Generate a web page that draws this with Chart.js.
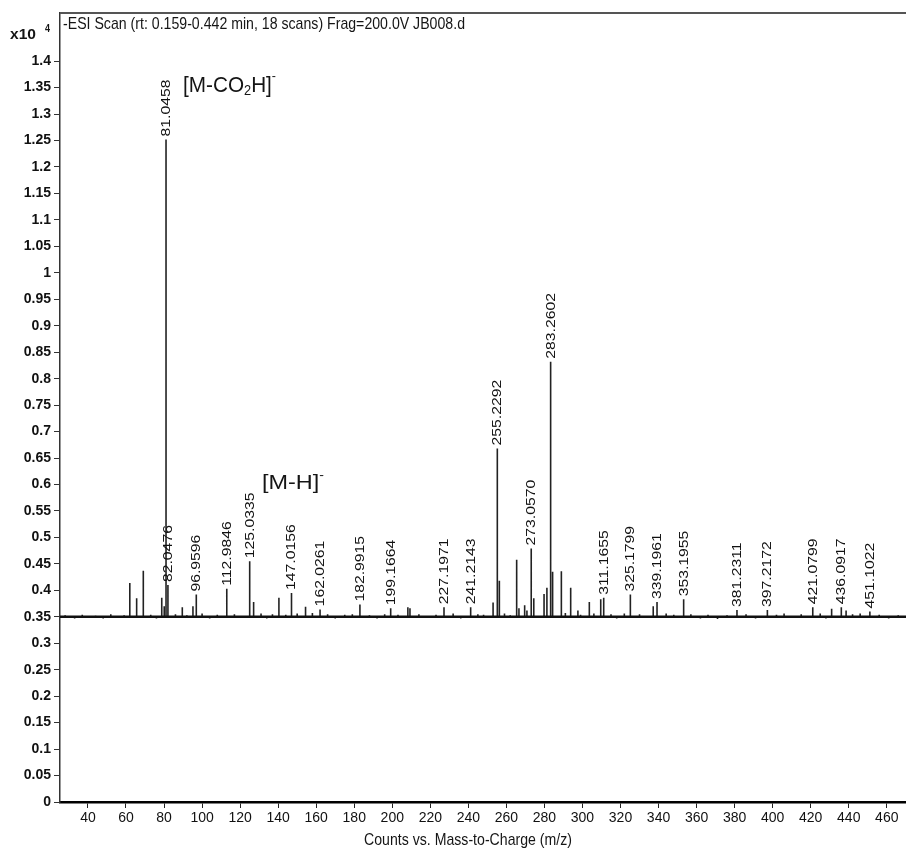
<!DOCTYPE html>
<html>
<head>
<meta charset="utf-8">
<script src="https://cdn.jsdelivr.net/npm/chart.js@4.4.1/dist/chart.umd.min.js"></script>
<style>
  html, body { margin: 0; padding: 0; background: #fff; }
  #wrap { width: 906px; height: 852px; position: relative; }
</style>
</head>
<body>
<div id="wrap"><canvas id="c" width="906" height="852"></canvas></div>
<script>
// Counts are in units of 10^4; the spectrum sits on a baseline offset.
const baselineLevel = 0.35;

// Annotated peaks: m/z text as printed, and apex intensity (x10^4 counts)
const labelledText = ['81.0458', '82.0476', '96.9596', '112.9846', '125.0335', '147.0156',
  '162.0261', '182.9915', '199.1664', '227.1971', '241.2143', '255.2292', '273.0570',
  '283.2602', '311.1655', '325.1799', '339.1961', '353.1955', '381.2311', '397.2172',
  '421.0799', '436.0917', '451.1022'];
const labelledHeight = [1.252, 0.410, 0.392, 0.403, 0.455, 0.395,
  0.364, 0.373, 0.366, 0.368, 0.368, 0.668, 0.479,
  0.832, 0.386, 0.392, 0.378, 0.383, 0.363, 0.363,
  0.368, 0.368, 0.360];

// Unannotated peaks
const otherMz = [62.0, 65.6, 69.1, 78.8, 80.1, 89.6, 95.2, 127.1, 140.4, 154.4,
  208.2, 209.3, 253.0, 256.3, 265.4, 266.6, 269.6, 270.8, 274.4, 279.8,
  281.3, 284.3, 288.9, 293.8, 297.6, 303.6, 309.6, 337.2, 431.0, 438.6];
const otherHeight = [0.414, 0.385, 0.437, 0.386, 0.370, 0.368, 0.370, 0.378, 0.386, 0.369,
  0.368, 0.366, 0.377, 0.418, 0.458, 0.366, 0.372, 0.362, 0.385, 0.393,
  0.405, 0.435, 0.436, 0.405, 0.362, 0.378, 0.383, 0.370, 0.365, 0.362];

// Baseline noise wiggles
const noiseMz = [28, 33, 37, 44, 48, 52, 56, 59, 73, 76, 86, 92, 100, 104, 108, 117, 121,
  131, 134, 137, 144, 150, 158, 166, 170, 175, 179, 188, 192, 196, 203, 214, 218, 223,
  232, 236, 245, 248, 259, 262, 291, 299, 306, 315, 318, 322, 330, 333, 344, 348, 357,
  362, 366, 371, 376, 386, 391, 402, 406, 411, 415, 425, 428, 442, 446, 456, 461, 466];
const noiseHeight = [0.353, 0.347, 0.354, 0.352, 0.347, 0.355, 0.348, 0.353, 0.354, 0.347,
  0.355, 0.353, 0.356, 0.347, 0.354, 0.355, 0.348, 0.356, 0.347, 0.355, 0.354, 0.356,
  0.357, 0.355, 0.347, 0.354, 0.355, 0.353, 0.347, 0.355, 0.354, 0.355, 0.348, 0.354,
  0.356, 0.347, 0.355, 0.354, 0.356, 0.353, 0.357, 0.354, 0.356, 0.355, 0.347, 0.356,
  0.355, 0.348, 0.356, 0.354, 0.355, 0.347, 0.354, 0.346, 0.353, 0.355, 0.347, 0.354,
  0.356, 0.348, 0.355, 0.356, 0.347, 0.355, 0.356, 0.354, 0.347, 0.353];

const xTickValues = [40, 60, 80, 100, 120, 140, 160, 180, 200, 220, 240, 260, 280,
  300, 320, 340, 360, 380, 400, 420, 440, 460];
const yTickValues = [0, 0.05, 0.1, 0.15, 0.2, 0.25, 0.3, 0.35, 0.4, 0.45, 0.5, 0.55,
  0.6, 0.65, 0.7, 0.75, 0.8, 0.85, 0.9, 0.95, 1, 1.05, 1.1, 1.15, 1.2, 1.25, 1.3, 1.35, 1.4];

const xMin = 25.3, xMax = 470.1;
const yMin = 0, yMax = 1.491;

// Stick spectrum as one polyline: baseline -> apex -> baseline for every peak
const labelledMz = labelledText.map(Number);
const allPeaks = [];
labelledMz.forEach((m, i) => allPeaks.push([m, labelledHeight[i]]));
otherMz.forEach((m, i) => allPeaks.push([m, otherHeight[i]]));
noiseMz.forEach((m, i) => allPeaks.push([m, noiseHeight[i]]));
allPeaks.sort((a, b) => a[0] - b[0]);
const stickPoints = [{ x: xMin, y: baselineLevel }];
allPeaks.forEach(([m, h]) => {
  stickPoints.push({ x: m, y: baselineLevel }, { x: m, y: h }, { x: m, y: baselineLevel });
});
stickPoints.push({ x: xMax, y: baselineLevel });

const FONT = '"Liberation Sans", Arial, sans-serif';
const NARROW = '"Liberation Sans Narrow", "Arial Narrow", "Liberation Sans", Arial, sans-serif';

// Text drawn with independent horizontal / vertical scaling
function drawScaled(ctx, segs, x, y, fontPx, sy, targetW, align) {
  ctx.save();
  let natural = 0;
  segs.forEach(s => {
    ctx.font = `${s.weight || 'normal'} ${fontPx * (s.k || 1)}px ${s.family || FONT}`;
    s.w = ctx.measureText(s.t).width;
    natural += s.w;
  });
  const sx = targetW ? targetW / natural : 1;
  const total = natural * sx;
  let startX = x;
  if (align === 'center') startX = x - total / 2;
  else if (align === 'right') startX = x - total;
  ctx.translate(startX, y);
  ctx.scale(sx, sy);
  ctx.textBaseline = 'middle';
  ctx.textAlign = 'left';
  let cx = 0;
  segs.forEach(s => {
    ctx.font = `${s.weight || 'normal'} ${fontPx * (s.k || 1)}px ${s.family || FONT}`;
    ctx.fillStyle = s.color || '#151515';
    ctx.fillText(s.t, cx, (s.dy || 0) * fontPx);
    cx += s.w;
  });
  ctx.restore();
}

const decorations = {
  id: 'decorations',
  afterDatasetsDraw(chart) {
    const { ctx, chartArea, scales } = chart;
    const xs = scales.x, ys = scales.y;

    // frame line along the top of the plot
    ctx.save();
    ctx.strokeStyle = '#555';
    ctx.lineWidth = 2;
    ctx.beginPath();
    ctx.moveTo(chartArea.left, chartArea.top);
    ctx.lineTo(chartArea.right, chartArea.top);
    ctx.stroke();
    ctx.restore();

    // rotated m/z annotations above the peaks
    labelledText.forEach((t, i) => {
      const px = xs.getPixelForValue(labelledMz[i]);
      const py = ys.getPixelForValue(labelledHeight[i]);
      ctx.save();
      ctx.translate(px, py - 3);
      ctx.rotate(-Math.PI / 2);
      ctx.scale(1.26, 1);
      ctx.font = `12.5px ${FONT}`;
      ctx.fillStyle = '#111';
      ctx.textAlign = 'left';
      ctx.textBaseline = 'middle';
      ctx.fillText(t, 0, 0.5);
      ctx.restore();
    });

    // scan header
    drawScaled(ctx, [{ t: '-ESI Scan (rt: 0.159-0.442 min, 18 scans) Frag=200.0V JB008.d' }],
      63, 25, 13.5, 1.2, 402, 'left');

    // exponent of the y axis
    drawScaled(ctx, [{ t: 'x10', weight: 'bold' }], 10, 35, 12, 1.2, 26, 'left');
    drawScaled(ctx, [{ t: '4', weight: 'bold' }], 45, 29, 9, 1.2, 0, 'left');

    // ion assignments
    drawScaled(ctx, [
      { t: '[M-CO' }, { t: '2', k: 0.62, dy: 0.22 }, { t: 'H]' }, { t: '-', k: 0.6, dy: -0.42 }
    ], 183, 86, 18.5, 1.2, 93, 'left');
    drawScaled(ctx, [
      { t: '[M-H]' }, { t: '-', k: 0.6, dy: -0.42 }
    ], 262, 484, 16.5, 1.2, 62, 'left');

    // x-axis title
    drawScaled(ctx, [{ t: 'Counts vs. Mass-to-Charge (m/z)' }], 468, 841, 13.5, 1.2, 208, 'center');
  }
};

new Chart(document.getElementById('c'), {
  type: 'scatter',
  data: {
    datasets: [
      {
        data: [{ x: xMin, y: baselineLevel }, { x: xMax, y: baselineLevel }],
        showLine: true, borderColor: '#111', borderWidth: 2.6, pointRadius: 0
      },
      {
        data: stickPoints,
        showLine: true, borderColor: '#222', borderWidth: 1.6, pointRadius: 0,
        borderJoinStyle: 'miter'
      }
    ]
  },
  options: {
    responsive: false,
    devicePixelRatio: 1,
    animation: false,
    layout: { padding: { top: 13, left: 0, right: 0, bottom: 0 } },
    plugins: { legend: { display: false }, tooltip: { enabled: false } },
    scales: {
      x: {
        type: 'linear', min: xMin, max: xMax,
        afterBuildTicks(scale) { scale.ticks = xTickValues.map(v => ({ value: v })); },
        afterFit(scale) { scale.height = 50; },
        border: { display: true, color: '#000', width: 2.5 },
        grid: { drawOnChartArea: false, drawTicks: true, tickLength: 6, color: '#222', lineWidth: 1 },
        ticks: {
          autoSkip: false, maxRotation: 0, padding: 2, color: '#111',
          font: { family: NARROW, size: 14 },
          callback: v => String(v)
        }
      },
      y: {
        type: 'linear', min: yMin, max: yMax,
        afterBuildTicks(scale) { scale.ticks = yTickValues.map(v => ({ value: v })); },
        afterFit(scale) { scale.width = 60; },
        border: { display: true, color: '#333', width: 1.5 },
        grid: { drawOnChartArea: false, drawTicks: true, tickLength: 6, color: '#333', lineWidth: 1 },
        ticks: {
          autoSkip: false, padding: 3, color: '#111',
          font: { family: NARROW, size: 14, weight: 'bold' },
          callback: v => String(parseFloat(Number(v).toFixed(2)))
        }
      }
    }
  },
  plugins: [decorations]
});
</script>
</body>
</html>
